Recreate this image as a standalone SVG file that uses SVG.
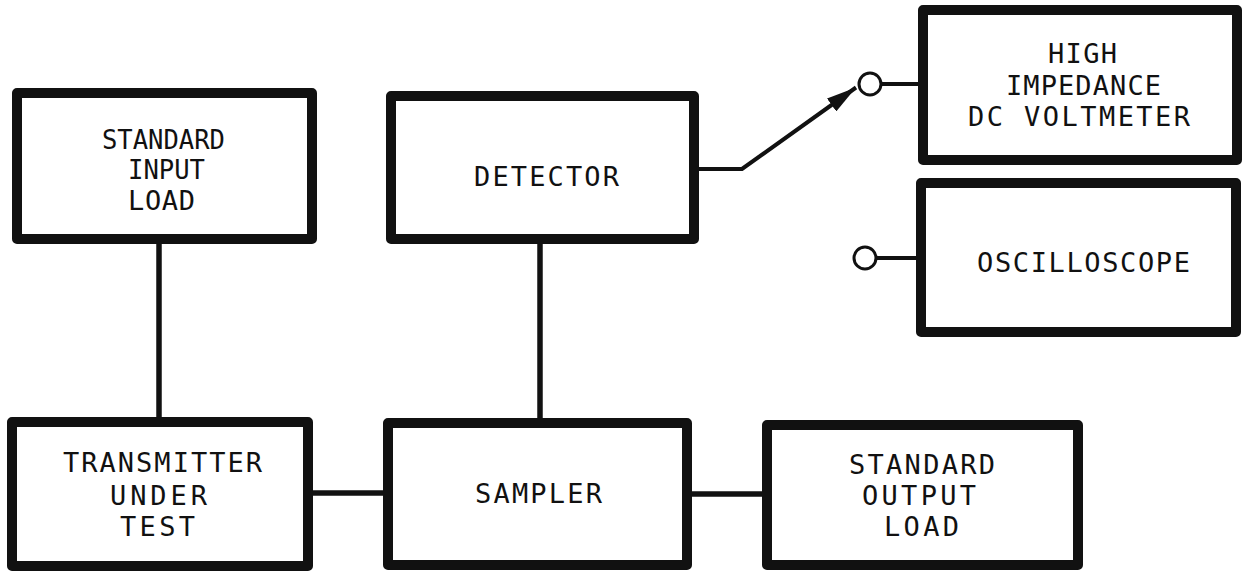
<svg xmlns="http://www.w3.org/2000/svg" width="1242" height="572" viewBox="0 0 1242 572">
<style>
.box{fill:#fff;stroke:#111;stroke-width:10;stroke-linejoin:round}
.wire{fill:none;stroke:#111;stroke-width:5.5}
.thin{fill:none;stroke:#111;stroke-width:4}
.term{fill:#fff;stroke:#111;stroke-width:3}
.lbl{font-family:"DejaVu Sans Mono","Liberation Mono",monospace;font-size:27px;fill:#111}
</style>
<defs>
<marker id="arr" markerUnits="userSpaceOnUse" markerWidth="30" markerHeight="16" refX="30" refY="8" orient="auto">
<path d="M0,0 L30,8 L0,16 z" fill="#111"/>
</marker>
</defs>
<rect width="1242" height="572" fill="#fff"/>
<g id="connectors">
<line class="wire" x1="159" y1="240" x2="159" y2="420"/>
<line class="wire" x1="540" y1="240" x2="540" y2="420"/>
<line class="wire" x1="310" y1="493" x2="386" y2="493"/>
<line class="wire" x1="690" y1="494" x2="765" y2="494"/>
<path class="thin" d="M696,169 L742,169 L856,87.5" marker-end="url(#arr)"/>
<line class="thin" x1="881" y1="84" x2="920" y2="84"/>
<line class="thin" x1="876" y1="258" x2="919" y2="258"/>
<circle class="term" cx="870" cy="84" r="11"/>
<circle class="term" cx="865" cy="258" r="11"/>
</g>
<g id="standard-input-load">
<rect class="box" x="17" y="93" width="295" height="146"/>
<text class="lbl" x="102" y="149" textLength="123" lengthAdjust="spacingAndGlyphs">STANDARD</text>
<text class="lbl" x="128" y="179" textLength="77" lengthAdjust="spacingAndGlyphs">INPUT</text>
<text class="lbl" x="128" y="210" textLength="67" lengthAdjust="spacing">LOAD</text>
</g>
<g id="detector">
<rect class="box" x="391" y="96" width="303" height="143"/>
<text class="lbl" x="474" y="186" textLength="145" lengthAdjust="spacing">DETECTOR</text>
</g>
<g id="voltmeter">
<rect class="box" x="923" y="10" width="314" height="150"/>
<text class="lbl" x="1048" y="63" textLength="69" lengthAdjust="spacing">HIGH</text>
<text class="lbl" x="1006" y="95" textLength="155" lengthAdjust="spacing">IMPEDANCE</text>
<text class="lbl" x="968" y="126" textLength="222" lengthAdjust="spacing">DC VOLTMETER</text>
</g>
<g id="oscilloscope">
<rect class="box" x="921" y="183" width="315" height="149"/>
<text class="lbl" x="977" y="272" textLength="213" lengthAdjust="spacing">OSCILLOSCOPE</text>
</g>
<g id="transmitter">
<rect class="box" x="12" y="422" width="296" height="144"/>
<text class="lbl" x="63" y="472" textLength="199" lengthAdjust="spacing">TRANSMITTER</text>
<text class="lbl" x="110" y="505" textLength="97" lengthAdjust="spacing">UNDER</text>
<text class="lbl" x="120" y="536" textLength="75" lengthAdjust="spacing">TEST</text>
</g>
<g id="sampler">
<rect class="box" x="388" y="423" width="299" height="142"/>
<text class="lbl" x="475" y="503" textLength="127" lengthAdjust="spacing">SAMPLER</text>
</g>
<g id="standard-output-load">
<rect class="box" x="767" y="425" width="311" height="140"/>
<text class="lbl" x="849" y="474" textLength="146" lengthAdjust="spacing">STANDARD</text>
<text class="lbl" x="862" y="505" textLength="114" lengthAdjust="spacing">OUTPUT</text>
<text class="lbl" x="884" y="536" textLength="75" lengthAdjust="spacing">LOAD</text>
</g>
</svg>
